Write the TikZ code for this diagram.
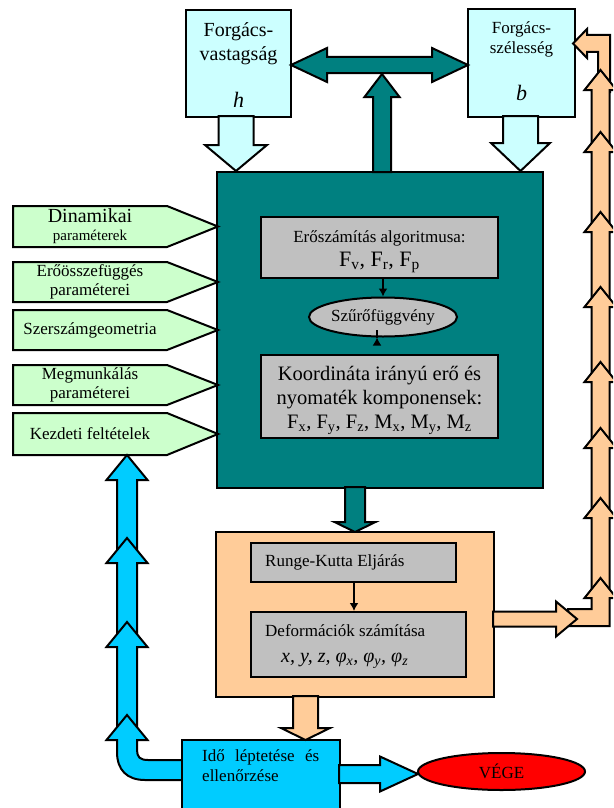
\documentclass[tikz,border=0pt]{standalone}
\usepackage{fontspec}
\setmainfont{Liberation Serif}
\usetikzlibrary{shapes.geometric,arrows.meta,calc}
\definecolor{cyanL}{HTML}{CCFFFF}
\definecolor{tealD}{HTML}{008080}
\definecolor{grayB}{HTML}{C0C0C0}
\definecolor{greenL}{HTML}{CCFFCC}
\definecolor{orangeL}{HTML}{FFCC99}
\definecolor{blueB}{HTML}{00CCFF}
\definecolor{redE}{HTML}{FF0000}
% vertical fat arrow: x, y base, y tip, shaft half, head half, head base y, colour
\newcommand{\varrow}[7]{\filldraw[fat,fill=#7] ({#1-#4},#2) -- ({#1-#4},#6) -- ({#1-#5},#6) -- (#1,#3) -- ({#1+#5},#6) -- ({#1+#4},#6) -- ({#1+#4},#2) -- cycle;}
% horizontal fat arrow: y, x base, x tip, shaft half, head half, head base x, colour
\newcommand{\harrow}[7]{\filldraw[fat,fill=#7] (#2,{#1-#4}) -- (#6,{#1-#4}) -- (#6,{#1-#5}) -- (#3,#1) -- (#6,{#1+#5}) -- (#6,{#1+#4}) -- (#2,{#1+#4}) -- cycle;}
% green pentagon: name, y top, y bottom, text
\newcommand{\pent}[4]{\filldraw[fat,fill=greenL] (13,#2) -- (167,#2) -- (218,{(#2+#3)/2}) -- (167,#3) -- (13,#3) -- cycle;
  \node[txt,font=\fontsize{17}{19}\selectfont] (#1) at (90,{(#2+#3)/2}) {#4};}
\begin{document}
\begin{tikzpicture}[x=1pt,y=-1pt,
  box/.style={draw=black,line width=2pt,rectangle,inner sep=0pt},
  fat/.style={draw=black,line width=2pt,line join=miter},
  txt/.style={inner sep=0pt,align=center,text=black},
  f17/.style={font=\fontsize{17}{20}\selectfont},
  f20/.style={font=\fontsize{20}{24}\selectfont},
  f22/.style={font=\fontsize{22}{24}\selectfont},
  thin arrow/.style={draw=black,line width=1.8pt,-{Latex[length=8pt,width=9pt]}}]
\useasboundingbox (0,0) rectangle (613,808);
\clip (0,0) rectangle (613,808);
\fill[white] (0,0) rectangle (613,808);

% top boxes
\node[box,fill=cyanL,minimum width=105pt,minimum height=107pt] (hbox) at (238.5,63.5) {};
\node[txt,f20] (htxt) at (238.5,44) {Forgács-\\vastagság};
\node[txt,f22] (hsym) at (238.5,100) {\itshape h};
\node[box,fill=cyanL,minimum width=107pt,minimum height=108pt] (bbox) at (521.5,63) {};
\node[txt,f17] (btxt) at (521.5,39) {Forgács-\\szélesség};
\node[txt,f22] (bsym) at (521.5,93) {\itshape b};

% down arrows into main box
\varrow{236}{116}{171}{17.5}{31}{145}{cyanL}
\varrow{520.5}{116}{171}{17.5}{29.5}{143}{cyanL}

% main teal box
\node[box,fill=tealD,minimum width=326pt,minimum height=316pt] (main) at (380,330) {};

% teal double arrow and up arrow
\filldraw[fat,fill=tealD] (291,65) -- (327,48) -- (327,57) -- (432,57) -- (432,48) -- (468,65) -- (432,82) -- (432,73) -- (327,73) -- (327,82) -- cycle;
\varrow{382}{172}{74}{9}{17.5}{97}{tealD}

% inner boxes
\node[box,fill=grayB,minimum width=237pt,minimum height=61pt] (g1) at (379.5,247.5) {};
\node[txt,f17] (g1a) at (379.5,238) {Erőszámítás algoritmusa:};
\node[txt,f22] (g1b) at (379.5,262) {F\textsubscript{v}, F\textsubscript{r}, F\textsubscript{p}};
\node[ellipse,draw=black,line width=2pt,fill=grayB,minimum width=148pt,minimum height=39pt,inner sep=0pt,f17] (ell) at (383,317) {Szűrőfüggvény};
\node[box,fill=grayB,minimum width=237pt,minimum height=83pt] (g2) at (379.5,396.5) {};
\node[txt,font=\fontsize{20.5}{24}\selectfont] (g2t) at (379.5,400) {Koordináta irányú erő és\\nyomaték komponensek:\\F\textsubscript{x}, F\textsubscript{y}, F\textsubscript{z}, M\textsubscript{x}, M\textsubscript{y}, M\textsubscript{z}};
\draw[thin arrow] (g1.south -| ell.north) -- (ell.north);
\draw[thin arrow] ($(ell.south)+(-6,0)$) -- ($(ell.south)+(-6,0)$ |- g2.north);

% green input pentagons
\pent{p1}{206}{247}{{\fontsize{20}{22}\selectfont Dinamikai}\\[-1pt]{\fontsize{15}{16}\selectfont paraméterek}}
\pent{p2}{262}{302}{Erőösszefüggés\\paraméterei}
\pent{p3}{310}{350}{Szerszámgeometria}
\pent{p4}{365}{405}{Megmunkálás\\paraméterei}
\pent{p5}{413}{455}{Kezdeti feltételek}

% teal arrow down to orange box
\varrow{355}{487}{532}{10}{20.5}{522}{tealD}

% orange box
\node[box,fill=orangeL,minimum width=278pt,minimum height=165pt] (obox) at (355,614.5) {};
\node[box,fill=grayB,minimum width=205pt,minimum height=39pt] (rk) at (353.5,562.5) {};
\node[txt,f17,anchor=west] (rkt) at (265,562) {Runge-Kutta Eljárás};
\node[box,fill=grayB,minimum width=215pt,minimum height=65pt] (def) at (358.5,644.5) {};
\node[txt,f17,anchor=west] (deft) at (265,631) {Deformációk számítása};
\node[txt,f20,anchor=west] (defm) at (281,661) {\itshape x, y, z, φ\textsubscript{x}, φ\textsubscript{y}, φ\textsubscript{z}};
\draw[thin arrow] (rk.south -| 354,0) -- (def.north -| 354,0);

% right orange chain (top to bottom)
\filldraw[fat,fill=orangeL] (598,92) -- (598,52) -- (587,52) -- (587,58) -- (573,43.5) -- (587,29) -- (587,35) -- (610,35) -- (610,92) -- cycle;
\varrow{600.5}{152}{70}{9}{16}{90}{orangeL}
\varrow{600.5}{232}{132}{9}{16}{152}{orangeL}
\varrow{600.5}{307}{212}{9}{16}{232}{orangeL}
\varrow{600.5}{382}{287}{9}{16}{307}{orangeL}
\varrow{600.5}{448}{362}{9}{16}{382}{orangeL}
\varrow{600.5}{518}{428}{9}{16}{448}{orangeL}
\varrow{600.5}{598}{498}{9}{16}{518}{orangeL}
\filldraw[fat,fill=orangeL] (568,609) -- (591.5,609) -- (591.5,598) -- (584.5,598) -- (600.5,578) -- (616.5,598) -- (609.5,598) -- (609.5,626) -- (568,626) -- cycle;
\harrow{619}{493}{577}{7.5}{17.5}{556}{orangeL}

% left blue chain (top to bottom)
\varrow{127}{563}{455}{10}{20.5}{480}{blueB}
\varrow{127}{647}{538}{10}{20.5}{563}{blueB}
\varrow{127}{740}{622}{10}{20.5}{647}{blueB}
\filldraw[fat,fill=blueB] (185,760) -- (148,760) .. controls (140,760) and (137,757) .. (137,750) -- (137,740) -- (147.5,740) -- (127,715) -- (106.5,740) -- (117,740) -- (117,752) .. controls (117,770) and (127,780) .. (145,780) -- (185,780) -- cycle;

% blue box
\node[box,fill=blueB,minimum width=158pt,minimum height=90pt] (tbox) at (261,785) {};
\node[txt,f17,align=left,anchor=north west] (tboxt) at (202,749) {\makebox[117pt][s]{Idő\hfill léptetése\hfill és}\\ellenőrzése};

% orange arrow down to blue box
\varrow{305.5}{696}{740}{12.5}{24.5}{728}{orangeL}

% blue arrow to end
\harrow{774}{339}{418}{9}{17.5}{380}{blueB}
\node[ellipse,draw=black,line width=2pt,fill=redE,minimum width=167pt,minimum height=37pt,inner sep=0pt,f17] (vege) at (501.5,771.5) {VÉGE};
\end{tikzpicture}
\end{document}
